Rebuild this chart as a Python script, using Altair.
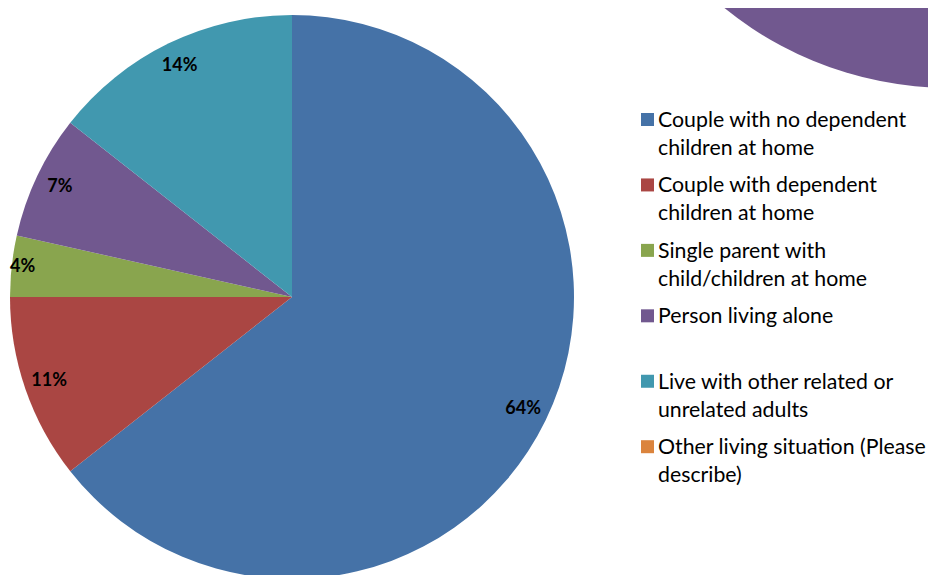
import altair as alt
import pandas as pd

categories = [
    "Couple with no dependent children at home",
    "Couple with dependent children at home",
    "Single parent with child/children at home",
    "Person living alone",
    "Live with other related or unrelated adults",
    "Other living situation (Please describe)",
]
legend_labels = [
    "Couple with no dependent\nchildren at home",
    "Couple with dependent\nchildren at home",
    "Single parent with\nchild/children at home",
    "Person living alone",
    "Live with other related or\nunrelated adults",
    "Other living situation (Please\ndescribe)",
]
percents = [64.4, 10.6, 3.5, 7.1, 14.4, 0]
value_labels = ["64%", "11%", "4%", "7%", "14%", ""]
colors = ["#4572A7", "#AA4643", "#89A54E", "#71588F", "#4198AF", "#DB843D"]

df = pd.DataFrame({
    "category": categories,
    "legend": legend_labels,
    "pct": percents,
    "label": value_labels,
    "idx": list(range(len(categories))),
})

base = alt.Chart(df)
theta = alt.Theta("pct:Q", stack=True)
color = alt.Color("category:N", scale=alt.Scale(domain=categories, range=colors), legend=None)
order = alt.Order("idx:Q")
cx, cy = alt.value(284), alt.value(289)

pie = base.mark_arc(radius=282).encode(theta=theta, color=color, order=order, x=cx, y=cy)

labels_big = base.transform_calculate(
    t="datum.pct >= 5 ? datum.label : ''"
).mark_text(radius=257, font="Lato", fontSize=18, fontWeight="bold", color="black").encode(
    theta=theta, order=order, text="t:N", x=cx, y=cy
)
labels_small = base.transform_calculate(
    t="datum.pct < 5 ? datum.label : ''"
).mark_text(radius=271, font="Lato", fontSize=18, fontWeight="bold", color="black").encode(
    theta=theta, order=order, text="t:N", x=cx, y=cy
)

ypos = alt.Y("category:N", scale=alt.Scale(domain=categories, range=[111.5, 438.7], padding=0), axis=None)

leg_sq = base.mark_square(size=169, opacity=1, filled=True).encode(
    y=ypos, x=alt.value(639.5), color=color
)
leg_text = base.mark_text(
    align="left", baseline="alphabetic", dy=7.5, lineBreak="\n", lineHeight=28,
    font="Lato", fontSize=21.3, color="black"
).encode(y=ypos, x=alt.value(650), text="legend:N")

deco = alt.Chart(pd.DataFrame({"a": [0]})).mark_arc(
    radius=358, theta=0, theta2=6.2832, color="#71588F"
).encode(x=alt.value(942), y=alt.value(-278))

chart = alt.layer(deco, pie, labels_big, labels_small, leg_sq, leg_text).properties(
    width=920, height=567, autosize=alt.AutoSizeParams(type="none"), padding=0,
    background="white"
).configure_view(stroke=None)

chart.save("out.html", embed_options={"renderer": "svg", "actions": False})
